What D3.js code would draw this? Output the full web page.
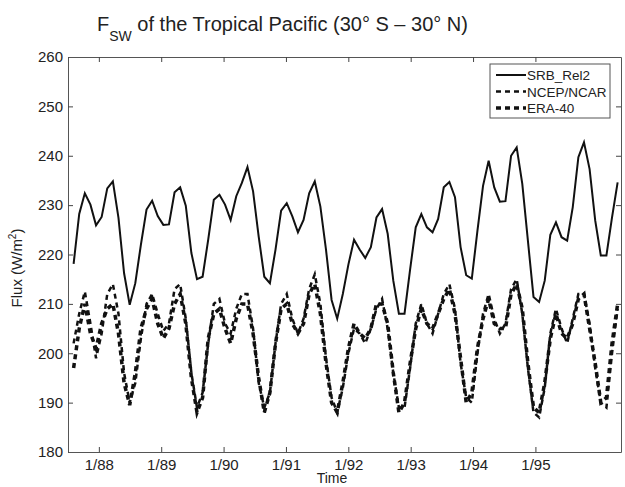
<!DOCTYPE html>
<html>
<head>
<meta charset="utf-8">
<script src="https://cdn.jsdelivr.net/npm/d3@7"></script>
<style>
  body { margin: 0; background: #fff; }
  text { font-family: "Liberation Sans", Arial, sans-serif; }
</style>
</head>
<body>
<div id="chart"></div>
<script>
// Monthly samples, index 0 = first sample on the left of the plot
var srb = [218.1, 228.2, 232.4, 230.1, 225.9, 227.6, 233.4, 234.8, 227.4, 216.2,
           209.8, 214.2, 222.0, 229.1, 230.9, 227.8, 226.0, 226.1, 232.6, 233.6,
           229.9, 220.3, 215.0, 215.5, 223.0, 231.1, 232.1, 230.1, 227.0, 231.8,
           234.5, 237.7, 232.8, 223.6, 215.5, 214.2, 221.0, 228.9, 230.4, 227.7,
           224.5, 227.0, 232.4, 234.8, 229.7, 221.0, 210.8, 207.0, 212.0, 218.0,
           223.0, 221.0, 219.3, 221.5, 227.5, 229.2, 224.2, 214.7, 208.0, 208.0,
           217.0, 225.5, 228.2, 225.5, 224.5, 227.2, 233.6, 234.7, 231.6, 221.5,
           215.8, 215.1, 224.8, 233.9, 239.0, 233.6, 230.7, 230.8, 240.0, 241.7,
           234.3, 222.8, 211.4, 210.4, 214.7, 224.0, 226.5, 223.5, 222.8, 229.6,
           239.7, 242.7, 237.3, 226.9, 219.8, 219.8, 227.5, 234.6];

var ncep = [202, 208, 212.5, 206, 199, 204, 212, 214, 208, 196,
            190, 194, 203, 210, 212, 208, 204.5, 206, 213, 214,
            207, 196, 189, 192, 202, 210, 211, 206, 204, 209,
            212, 212, 205, 194, 189, 192, 202, 210, 212, 207,
            204, 207, 213, 216, 210, 199, 191, 188, 193, 200,
            205, 204, 202, 205, 209, 211, 205, 196, 189, 189,
            197, 206, 210, 206, 204, 208, 212, 214, 209, 198,
            191, 190, 200, 208, 212, 207, 204, 206, 213, 215,
            208, 197, 188, 187, 193, 204, 209, 205, 202, 207,
            212, 212, 206, 197, 190, 189, 200, 209];

var era = [197, 205, 210, 204, 201, 206, 209, 210, 204, 194,
           189.5, 196, 205, 209, 211, 206, 203, 205, 210, 212,
           206, 195, 188, 191, 203, 208, 209, 205, 202, 207,
           210, 210, 204, 195, 188, 192, 202, 209, 210, 206,
           204, 206, 212, 214, 208, 198, 190, 188, 194, 201,
           206, 204, 203, 205, 210, 210, 206, 196, 188, 190,
           198, 205, 209, 206, 205, 208, 211, 213, 208, 199,
           190, 192, 201, 207, 211, 206, 205, 205, 212, 214,
           209, 198, 189, 188, 194, 203, 208, 204, 203, 206,
           211, 212, 205, 198, 190, 191, 202, 210];

var yTicks = [180, 190, 200, 210, 220, 230, 240, 250, 260];
var xTickLabels = ["1/88", "1/89", "1/90", "1/91", "1/92", "1/93", "1/94", "1/95"];
var xTickValues = [4.5, 15.62, 26.74, 37.86, 48.98, 60.1, 71.22, 82.34]; // in sample units

var seriesNames = ["SRB_Rel2", "NCEP/NCAR", "ERA-40"];

var main = function () {
    "use strict";

    var width = 625, height = 487;
    var margin = {top: 57, right: 4, bottom: 35, left: 68};

    var svg = d3.select("#chart").append("svg")
        .attr("width", width)
        .attr("height", height);

    var x = d3.scaleLinear().domain([-1, 97.6]).range([margin.left, width - margin.right]);
    var y = d3.scaleLinear().domain([180, 260]).range([height - margin.bottom, margin.top]);

    // Axes, ticks drawn inward like a matlab box
    svg.append("g").attr("class", "axis")
        .attr("transform", "translate(" + x.range()[0] + ",0)")
        .call(d3.axisLeft(y).tickValues(yTicks).tickSize(-5).tickSizeOuter(0).tickPadding(5));
    svg.append("g").attr("class", "axis")
        .attr("transform", "translate(" + x.range()[1] + ",0)")
        .call(d3.axisRight(y).tickValues(yTicks).tickSize(-5).tickSizeOuter(0).tickFormat(""));
    svg.append("g").attr("class", "axis")
        .attr("transform", "translate(0," + y.range()[0] + ")")
        .call(d3.axisBottom(x).tickValues(xTickValues).tickSize(-5).tickSizeOuter(0).tickPadding(7)
            .tickFormat(function(d, i) { return xTickLabels[i]; }));
    svg.append("g").attr("class", "axis")
        .attr("transform", "translate(0," + y.range()[1] + ")")
        .call(d3.axisTop(x).tickValues(xTickValues).tickSize(-5).tickSizeOuter(0).tickFormat(""));

    svg.selectAll(".axis path").attr("stroke", "#555");
    svg.selectAll(".axis line").attr("stroke", "#444");
    svg.selectAll(".axis text").attr("font-size", 15).attr("fill", "#222")
        .attr("font-family", "Liberation Sans, Arial, sans-serif");

    // Lines
    var line = d3.line()
        .x(function(d, i) { return x(i); })
        .y(function(d) { return y(d); });

    svg.append("path").datum(era)
        .attr("fill", "none").attr("stroke", "#111")
        .attr("stroke-width", 3.5).attr("stroke-dasharray", "5,4")
        .attr("d", line);
    svg.append("path").datum(ncep)
        .attr("fill", "none").attr("stroke", "#111")
        .attr("stroke-width", 2.5).attr("stroke-dasharray", "5,4")
        .attr("d", line);
    svg.append("path").datum(srb)
        .attr("fill", "none").attr("stroke", "#111")
        .attr("stroke-width", 2)
        .attr("d", line);

    // Title with subscript
    var title = svg.append("text")
        .attr("x", 97).attr("y", 31)
        .attr("font-size", 20).attr("fill", "#222");
    title.append("tspan").text("F");
    title.append("tspan").attr("font-size", 14).attr("dy", 10).text("SW");
    title.append("tspan").attr("dy", -10).text(" of the Tropical Pacific (30\u00b0 S \u2013 30\u00b0 N)");

    // Axis labels
    var ylab = svg.append("text")
        .attr("transform", "translate(22,268) rotate(-90)")
        .attr("text-anchor", "middle")
        .attr("font-size", 15).attr("fill", "#222");
    ylab.append("tspan").text("Flux (W/m");
    ylab.append("tspan").attr("font-size", 10).attr("dy", -6).text("2");
    ylab.append("tspan").attr("dy", 6).text(")");

    svg.append("text")
        .attr("x", 332).attr("y", 483)
        .attr("text-anchor", "middle")
        .attr("font-size", 14).attr("fill", "#222")
        .text("Time");

    // Legend
    var lg = svg.append("g");
    lg.append("rect")
        .attr("x", 490).attr("y", 64).attr("width", 120).attr("height", 54)
        .attr("fill", "#fff").attr("stroke", "#555").attr("stroke-width", 1);
    var styles = [
        {w: 2, dash: null},
        {w: 2.5, dash: "5,4"},
        {w: 3.5, dash: "5,4"}
    ];
    seriesNames.forEach(function(name, i) {
        var yy = 75 + i * 16.5;
        lg.append("line")
            .attr("x1", 496).attr("x2", 526).attr("y1", yy).attr("y2", yy)
            .attr("stroke", "#111").attr("stroke-width", styles[i].w)
            .attr("stroke-dasharray", styles[i].dash);
        lg.append("text")
            .attr("x", 527).attr("y", yy + 5)
            .attr("font-size", 13.5).attr("fill", "#222")
            .text(name);
    });
};

main();
</script>
</body>
</html>
